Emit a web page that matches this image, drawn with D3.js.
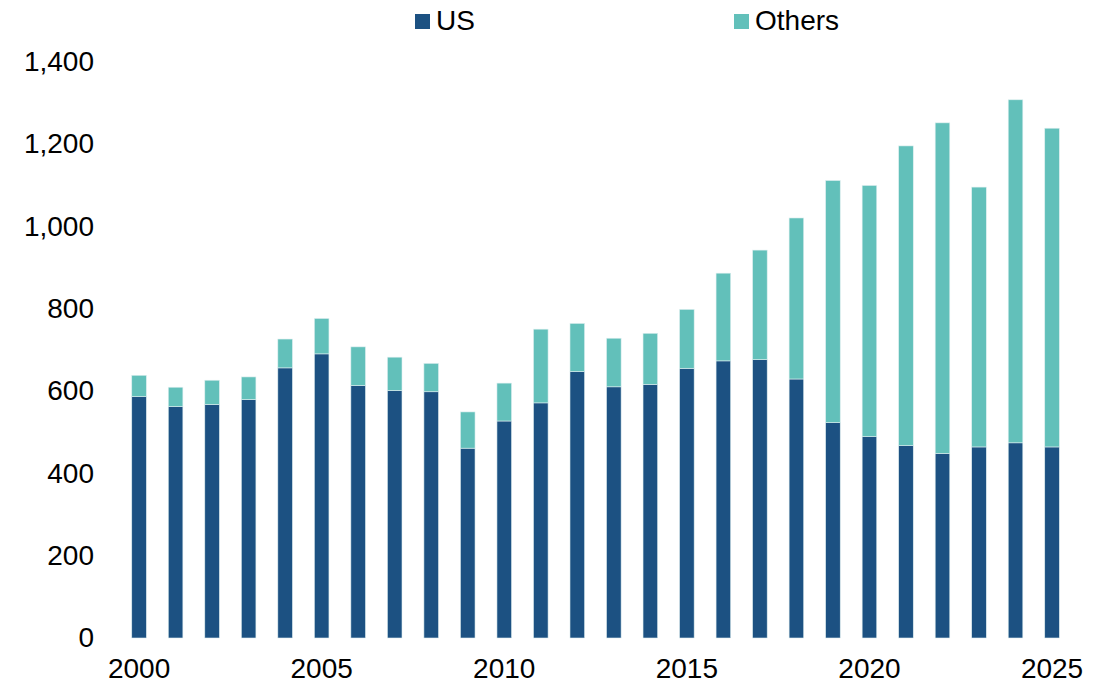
<!DOCTYPE html>
<html>
<head>
<meta charset="utf-8">
<script src="https://cdn.jsdelivr.net/npm/d3@7"></script>
<style>
  body { margin: 0; background: #fff; }
  svg text { font-family: "Liberation Sans", Arial, sans-serif; font-size: 28px; fill: #000; }
</style>
</head>
<body>
<svg width="1112" height="687"></svg>
<script>
// data
const years = d3.range(2000, 2026).map(String)
const usValues = [586, 562, 567, 579, 656, 690, 613, 601, 598, 461, 527, 571, 647,
                  610, 616, 655, 673, 676, 629, 523, 489, 467, 448, 464, 474, 464]
const totalValues = [638, 609, 626, 634, 726, 776, 707, 682, 667, 549, 619, 750, 764,
                     728, 740, 798, 886, 942, 1020, 1111, 1099, 1195, 1251, 1095, 1307, 1238]
const othersValues = totalValues.map((t, i) => t - usValues[i])
const seriesNames = ['US', 'Others']
const colors = ['#1c5182', '#62c0ba']
const yTicks = [0, 200, 400, 600, 800, 1000, 1200, 1400]
const xLabels = ['2000', '2005', '2010', '2015', '2020', '2025']

const svg = d3.select('svg')

// build rows for the stack
const data = years.map((y, i) => ({year: y, US: usValues[i], Others: othersValues[i]}))
const stacked = d3.stack().keys(seriesNames)(data)

const xScale = d3.scaleBand()
    .domain(years)
    .range([120.8, 1070.3])
    .paddingInner(0.6)
    .paddingOuter(0.3)

const yScale = d3.scaleLinear()
    .domain([0, 1400])
    .range([638, 61.5])

// y axis, just labels
svg.append('g')
    .attr('transform', 'translate(104,0)')
    .call(d3.axisLeft(yScale).tickValues(yTicks).tickSize(0).tickPadding(10).tickFormat(d3.format(',')))
    .call(g => g.select('.domain').remove())
    .selectAll('text').attr('font-size', null).attr('font-family', null)

// x axis, every fifth year
svg.append('g')
    .attr('transform', 'translate(0,638)')
    .call(d3.axisBottom(xScale).tickValues(xLabels).tickSize(0).tickPadding(20))
    .call(g => g.select('.domain').remove())
    .selectAll('text').attr('font-size', null).attr('font-family', null)

// bars
svg.selectAll('g.series').data(stacked)
    .enter().append('g')
        .attr('class', 'series')
        .attr('fill', (d, i) => colors[i])
    .selectAll('rect').data(d => d)
    .enter().append('rect')
        .attr('x', d => xScale(d.data.year))
        .attr('y', d => yScale(d[1]))
        .attr('width', xScale.bandwidth())
        .attr('height', d => yScale(d[0]) - yScale(d[1]))
        .attr('stroke', '#dfeff0')
        .attr('stroke-width', 0.6)

// legend on top
const legendX = [415, 734]
const legend = svg.selectAll('g.legend').data(seriesNames)
    .enter().append('g')
        .attr('class', 'legend')
        .attr('transform', (d, i) => `translate(${legendX[i]},14)`)
legend.append('rect')
    .attr('width', 15).attr('height', 15)
    .attr('fill', (d, i) => colors[i])
legend.append('text')
    .attr('x', 21).attr('y', 16)
    .text(d => d)
</script>
</body>
</html>
